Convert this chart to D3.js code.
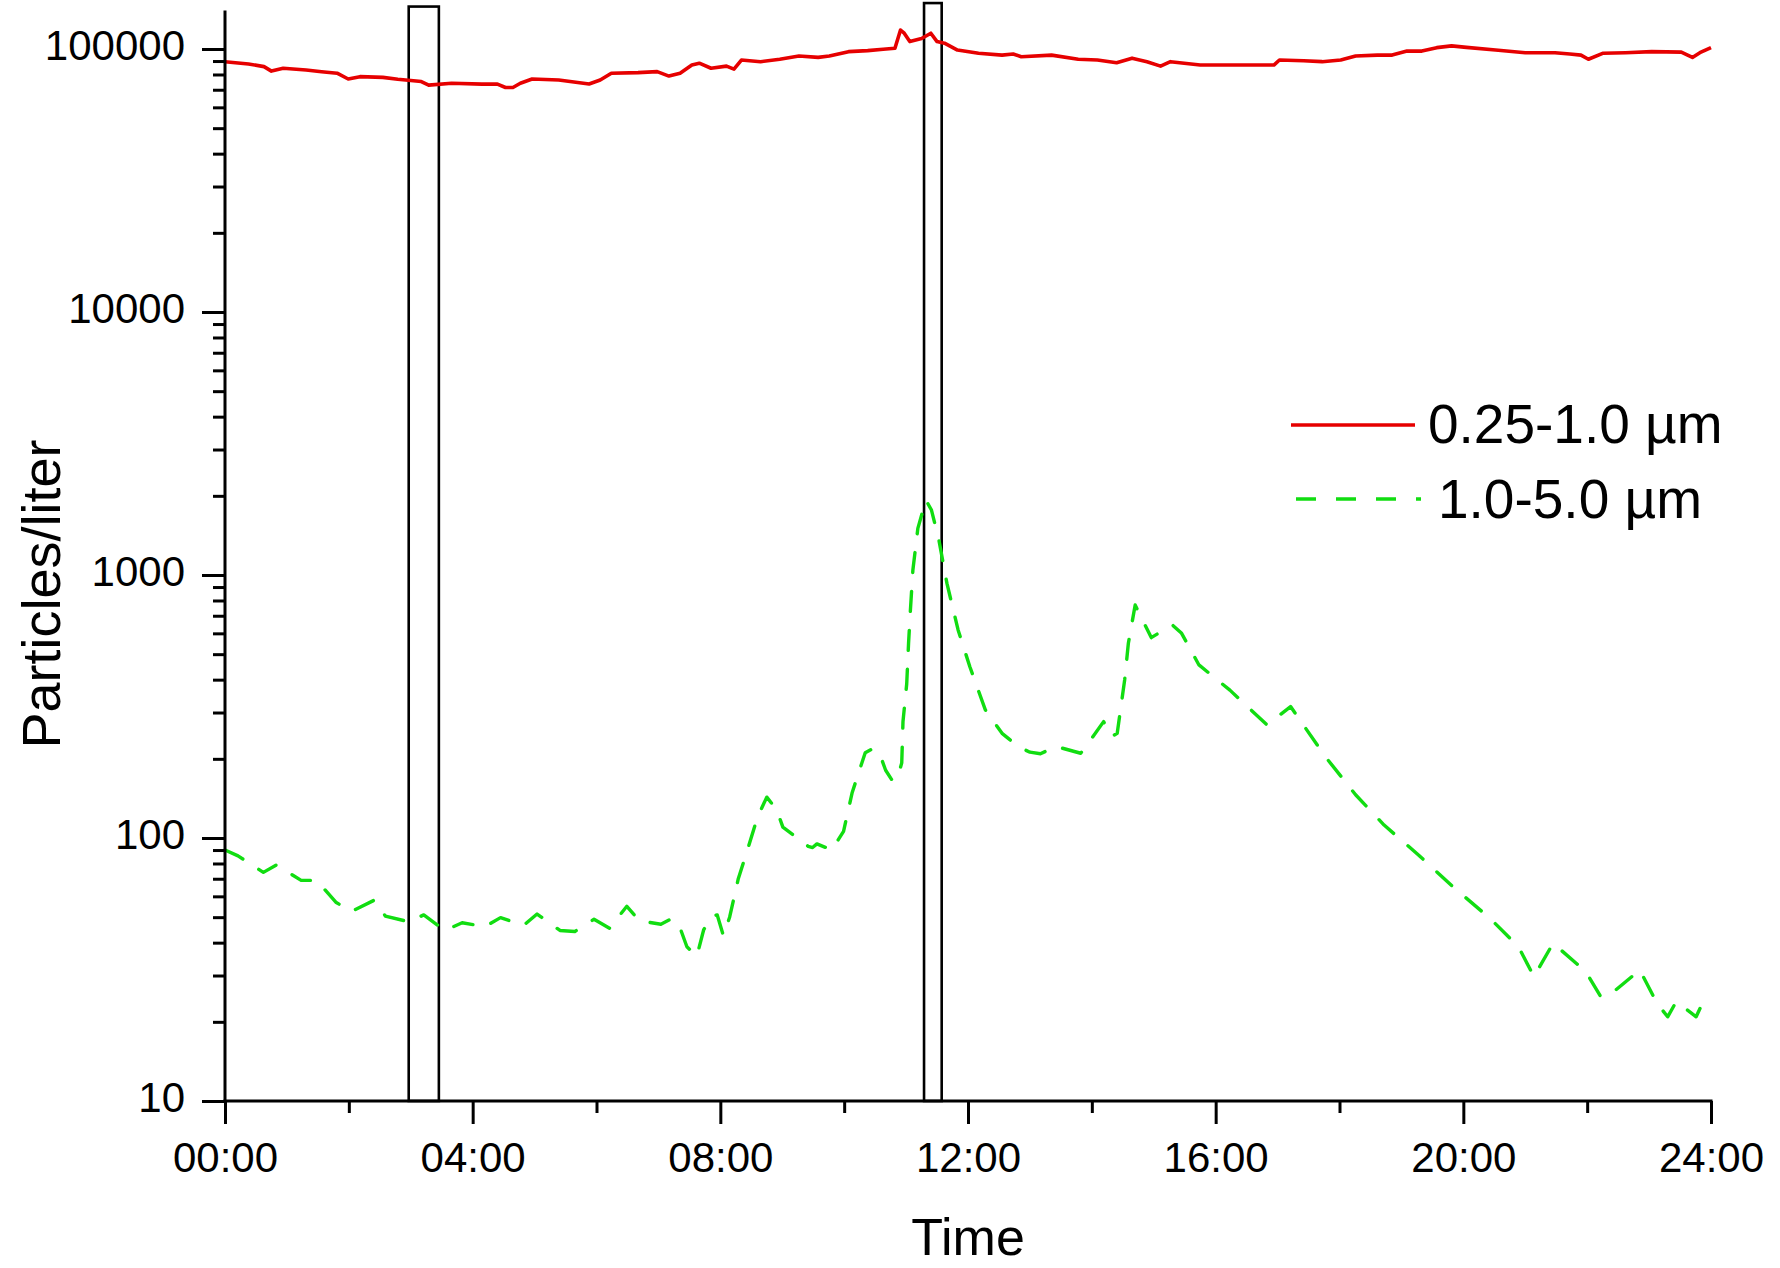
<!DOCTYPE html>
<html>
<head>
<meta charset="utf-8">
<script src="https://cdn.jsdelivr.net/npm/d3@7"></script>
<style>
html,body{margin:0;padding:0;background:#ffffff;}
svg{display:block;font-family:"Liberation Sans",Arial,Helvetica,sans-serif;}
</style>
</head>
<body>
<svg id="chart" width="1780" height="1268"></svg>
<script>
// ---- data (time in hours, values in particles/liter) ----
const redHours = [0.00,0.38,0.63,0.75,0.94,1.31,1.56,1.81,1.99,2.18,2.55,2.79,3.17,3.29,3.66,4.15,4.40,4.53,4.65,4.77,4.96,5.39,5.88,6.06,6.24,6.67,6.98,7.17,7.35,7.54,7.66,7.85,8.10,8.22,8.34,8.65,8.96,9.27,9.58,9.76,10.07,10.38,10.63,10.82,10.91,10.97,11.06,11.25,11.40,11.50,11.62,11.83,12.17,12.55,12.73,12.86,13.35,13.78,14.09,14.40,14.65,14.89,15.11,15.27,15.75,16.34,16.94,17.03,17.42,17.72,18.02,18.26,18.61,18.85,19.09,19.33,19.57,19.81,20.05,20.52,21.00,21.48,21.72,21.90,22.02,22.26,22.62,23.04,23.52,23.70,23.82,24.00];
const redValues = [89500,87700,85700,82400,84500,83200,82000,80900,76900,78500,78000,76700,75200,72900,74100,73500,73500,71400,71400,74100,76900,76200,73600,76200,80900,81300,82000,78900,80900,86900,88300,84500,86100,83900,90800,89500,91400,94000,92900,94000,97700,98600,99800,100700,118000,114800,106700,109600,114800,106700,105200,99100,96400,94800,95700,93500,94800,91400,90800,88700,92300,89500,86100,89500,86900,86900,86900,90800,90200,89500,90800,94000,94800,94800,98200,98200,101200,102800,101400,99100,96800,96800,95700,94800,91400,96400,96800,97700,97300,92900,96800,101200];

const greenHours = [0.00,0.21,0.62,0.83,1.23,1.48,1.79,2.04,2.41,2.59,2.97,3.21,3.55,3.83,4.20,4.45,4.82,5.04,5.41,5.65,5.96,6.21,6.49,6.69,7.04,7.19,7.32,7.46,7.62,7.73,7.86,7.95,8.05,8.15,8.29,8.45,8.60,8.75,8.91,9.01,9.42,9.49,9.56,9.80,9.99,10.13,10.34,10.45,10.57,10.67,10.78,10.86,10.93,10.95,11.01,11.04,11.07,11.11,11.19,11.32,11.41,11.53,11.66,11.84,12.03,12.28,12.55,12.68,12.80,13.00,13.17,13.42,13.82,13.98,14.19,14.32,14.41,14.53,14.59,14.70,14.96,15.30,15.45,15.73,16.23,16.83,17.21,17.77,18.26,18.72,19.28,19.84,20.43,20.89,21.14,21.45,21.98,22.22,22.40,22.85,23.13,23.30,23.44,23.76,23.90];
const greenValues = [90,85.5,74,79,69,69,57,52.5,58,50.5,48,51,44.5,47.6,46,49.8,46.5,51.4,44.5,44.1,49.1,45.4,55,48.5,47,49,47.6,38.6,35.5,44.7,50.5,51,42.5,50,70,92,120,143,128,110,93,92,95,90,106,149,211,218,210,181,165,169,193,277,385,550,736,1045,1504,1927,1766,1358,929,618,448,307,250,236,223,212,209,223,210,236,277,243,250,399,550,769,578,646,600,455,365,269,316,204,146,112,86,65,49.5,38.6,29.7,39.8,31,24.9,25.7,31.5,23.5,20.9,23.9,20.9,24.6];

const seriesNames = ["0.25-1.0 \u00b5m", "1.0-5.0 \u00b5m"];
const seriesColors = ["#e60000", "#11dd11"];

const xTickHours = [0,4,8,12,16,20,24];
const xTickLabels = ["00:00","04:00","08:00","12:00","16:00","20:00","24:00"];
const xMinorHours = [2,6,10,14,18,22];
const yTickValues = [10,100,1000,10000,100000];
const yTickLabels = ["10","100","1000","10000","100000"];
const yMinorMultipliers = [2,3,4,5,6,7,8,9];
const yAxisTop = 140000;

// marked intervals (hours) drawn as open boxes
const boxStarts = [2.967, 11.29];
const boxEnds = [3.454, 11.575];
const boxTops = [145000, 149500];

const xTitle = "Time";
const yTitle = "Particles/liter";

// ---- layout ----
const svg = d3.select("#chart");
const x = d3.scaleLinear().domain([0,24]).range([225,1711]);
const y = d3.scaleLog().domain([10,100000]).range([1101,49]);

// boxes
const boxes = boxStarts.map((s,i)=>({s:s,e:boxEnds[i],t:boxTops[i]}));
svg.append("g").selectAll("rect").data(boxes).join("rect")
  .attr("x", d=>x(d.s)).attr("width", d=>x(d.e)-x(d.s))
  .attr("y", d=>y(d.t)).attr("height", d=>y(10)-y(d.t))
  .attr("fill","none").attr("stroke","#000").attr("stroke-width",2.6);

// lines
const line = d3.line().x(d=>x(d[0])).y(d=>y(d[1]));
const redData = redHours.map((h,i)=>[h,redValues[i]]);
const greenData = greenHours.map((h,i)=>[h,greenValues[i]]);

svg.append("path").datum(redData).attr("d", line)
  .attr("fill","none").attr("stroke",seriesColors[0]).attr("stroke-width",3.6)
  .attr("stroke-linejoin","round");
svg.append("path").datum(greenData).attr("d", line)
  .attr("fill","none").attr("stroke",seriesColors[1]).attr("stroke-width",3.4)
  .attr("stroke-dasharray","20,19").attr("stroke-linecap","round")
  .attr("stroke-linejoin","round");

// axes
const yMinor = [];
yTickValues.slice(0,-1).forEach(v=>yMinorMultipliers.forEach(m=>yMinor.push(v*m)));

const gy = svg.append("g").attr("transform","translate(225,0)");
gy.call(d3.axisLeft(y).tickValues(yTickValues).tickFormat((d,i)=>yTickLabels[i]).tickSize(23).tickPadding(17));
const gyMinor = svg.append("g").attr("transform","translate(225,0)");
gyMinor.call(d3.axisLeft(y).tickValues(yMinor).tickFormat("").tickSize(12));

const gx = svg.append("g").attr("transform","translate(0,1101)");
gx.call(d3.axisBottom(x).tickValues(xTickHours).tickFormat((d,i)=>xTickLabels[i]).tickSize(23).tickPadding(18));
const gxMinor = svg.append("g").attr("transform","translate(0,1101)");
gxMinor.call(d3.axisBottom(x).tickValues(xMinorHours).tickFormat("").tickSize(12));

svg.selectAll(".domain").remove();
svg.selectAll(".tick line").attr("stroke","#000").attr("stroke-width",3);
svg.selectAll(".tick text").attr("fill","#000").attr("font-size",42)
  .attr("font-family","'Liberation Sans',Arial,sans-serif");
gy.selectAll(".tick text").attr("dy","0.26em");

// axis lines
svg.append("line").attr("x1",225).attr("x2",225).attr("y1",y(10)+1.5).attr("y2",y(yAxisTop))
  .attr("stroke","#000").attr("stroke-width",3);
svg.append("line").attr("x1",x(0)-1.5).attr("x2",x(24)+1.5).attr("y1",y(10)).attr("y2",y(10))
  .attr("stroke","#000").attr("stroke-width",3.2);

// titles
svg.append("text").attr("x",(x(0)+x(24))/2).attr("y",1255).attr("text-anchor","middle")
  .attr("font-size",52).attr("fill","#000").text(xTitle);
svg.append("text").attr("transform","translate(60,594) rotate(-90)").attr("text-anchor","middle")
  .attr("font-size",54).attr("fill","#000").text(yTitle);

// legend
const legY = [425, 499];
const legTextX = [1428, 1438];
const legTextY = [443, 518];
const leg = svg.append("g");
seriesNames.forEach((name,i)=>{
  const l = leg.append("line").attr("x1", i===0?1291:1296).attr("x2", i===0?1415:1421)
    .attr("y1",legY[i]).attr("y2",legY[i]).attr("stroke",seriesColors[i]).attr("stroke-width",3.4);
  if(i===1) l.attr("stroke-dasharray","20,20");
  leg.append("text").attr("x",legTextX[i]).attr("y",legTextY[i]).attr("font-size",55)
    .attr("fill","#000").text(name);
});
</script>
</body>
</html>
